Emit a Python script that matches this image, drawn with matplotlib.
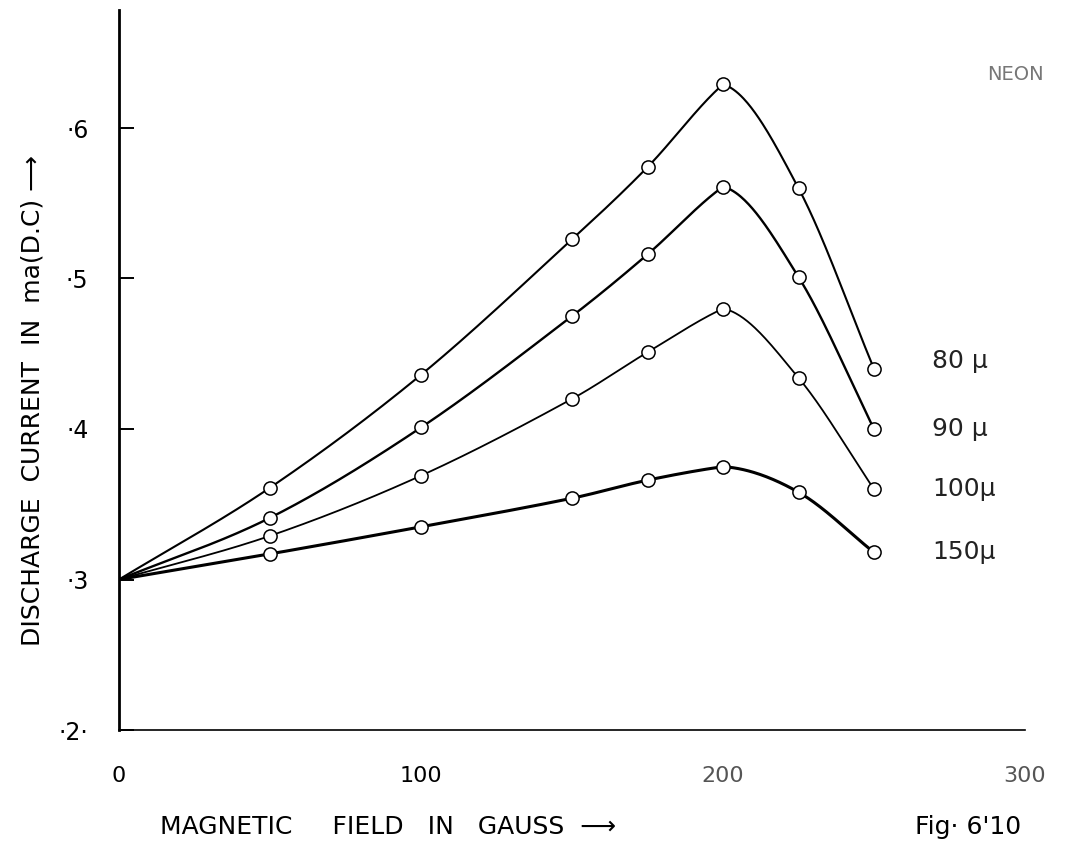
import numpy as np
import matplotlib
matplotlib.use("Agg")
import matplotlib.pyplot as plt

# ---- data ----
field_gauss = [0, 50, 100, 150, 175, 200, 225, 250]
current_80 = [0.300, 0.361, 0.436, 0.526, 0.574, 0.629, 0.560, 0.440]
current_90 = [0.300, 0.341, 0.401, 0.475, 0.516, 0.561, 0.501, 0.400]
current_100 = [0.300, 0.329, 0.369, 0.420, 0.451, 0.480, 0.434, 0.360]
current_150 = [0.300, 0.317, 0.335, 0.354, 0.366, 0.375, 0.358, 0.318]
series_labels = ["80 μ", "90 μ", "100μ", "150μ"]
x_ticks = [0, 100, 200, 300]
x_ticklabels = ["0", "100", "200", "300"]
y_ticks = [0.2, 0.3, 0.4, 0.5, 0.6]
y_ticklabels = ["·2·", "·3", "·4", "·5", "·6"]


def smooth(x, y, n=60):
    """Hand-drawn-like cubic Hermite curve through the points (drawing only).
    Interior slopes are centred differences; at the peak the curve comes in
    almost straight and leaves nearly flat (corner hidden by the marker)."""
    x = np.asarray(x, float)
    y = np.asarray(y, float)
    h = np.diff(x)
    d = np.diff(y) / h
    k = len(x)
    m_out = np.zeros(k)
    m_in = np.zeros(k)
    m_out[0] = m_in[0] = d[0]
    m_out[-1] = m_in[-1] = d[-1]
    for i in range(1, k - 1):
        c = (y[i + 1] - y[i - 1]) / (x[i + 1] - x[i - 1])
        if d[i - 1] * d[i] <= 0:
            m_in[i] = 0.8 * d[i - 1]
            m_out[i] = 0.2 * d[i]
        else:
            m_in[i] = m_out[i] = c
    xs_all, ys_all = [], []
    for i in range(k - 1):
        t = np.linspace(0, 1, n)
        h00 = 2 * t ** 3 - 3 * t ** 2 + 1
        h10 = t ** 3 - 2 * t ** 2 + t
        h01 = -2 * t ** 3 + 3 * t ** 2
        h11 = t ** 3 - t ** 2
        seg = (h00 * y[i] + h10 * h[i] * m_out[i]
               + h01 * y[i + 1] + h11 * h[i] * m_in[i + 1])
        xs_all.append(x[i] + t * h[i])
        ys_all.append(seg)
    return np.concatenate(xs_all), np.concatenate(ys_all)


fig = plt.figure(figsize=(10.73, 8.44), dpi=100)
ax = fig.add_axes([119 / 1073, 1 - 730 / 844, (1025 - 119) / 1073, 720 / 844])

series = [current_80, current_90, current_100, current_150]
widths = [1.5, 1.7, 1.3, 2.2]
for vals, lw in zip(series, widths):
    xs, ys = smooth(field_gauss, vals)
    ax.plot(xs, ys, color="black", lw=lw, zorder=2, solid_capstyle="round",
            solid_joinstyle="round")
    ax.plot(field_gauss[1:], vals[1:], linestyle="none", marker="o",
            markersize=9.5, markerfacecolor="white", markeredgecolor="black",
            markeredgewidth=1.1, zorder=3)

ax.set_xlim(0, 300)
ax.set_ylim(0.2, 0.2 + 720 / 1505)

for s in ["top", "right"]:
    ax.spines[s].set_visible(False)
ax.spines["left"].set_linewidth(2.0)
ax.spines["bottom"].set_linewidth(1.2)

ax.set_xticks(x_ticks)
ax.set_xticklabels(x_ticklabels)
ax.set_yticks(y_ticks)
ax.set_yticklabels(y_ticklabels)
ax.tick_params(axis="x", length=0, pad=26, labelsize=16)
ax.tick_params(axis="y", direction="in", length=11, width=1.4, pad=22,
               labelsize=17)
for lbl in ax.get_xticklabels()[2:]:
    lbl.set_color("#555555")

# series labels at the right end of the curves
label_y = [current_80[-1] + 0.005, current_90[-1], current_100[-1], current_150[-1]]
for txt, yv in zip(series_labels, label_y):
    ax.annotate(txt, xy=(250, yv), xytext=(42, 0), textcoords="offset points",
                va="center", ha="left", fontsize=18, color="#222222")

fig.text(1015 / 1073, 1 - 75 / 844, "NEON", fontsize=14, color="#777777",
         ha="center", va="center")

fig.text(33 / 1073, 1 - 400 / 844, "DISCHARGE  CURRENT  IN  ma(D.C) ⟶",
         rotation=90, ha="center", va="center", fontsize=18)
fig.text(160 / 1073, 1 - 827 / 844, "MAGNETIC     FIELD   IN   GAUSS  ⟶",
         ha="left", va="center", fontsize=18)
fig.text(915 / 1073, 1 - 827 / 844, "Fig· 6'10",
         ha="left", va="center", fontsize=18)

fig.savefig("out.png", dpi=100)
